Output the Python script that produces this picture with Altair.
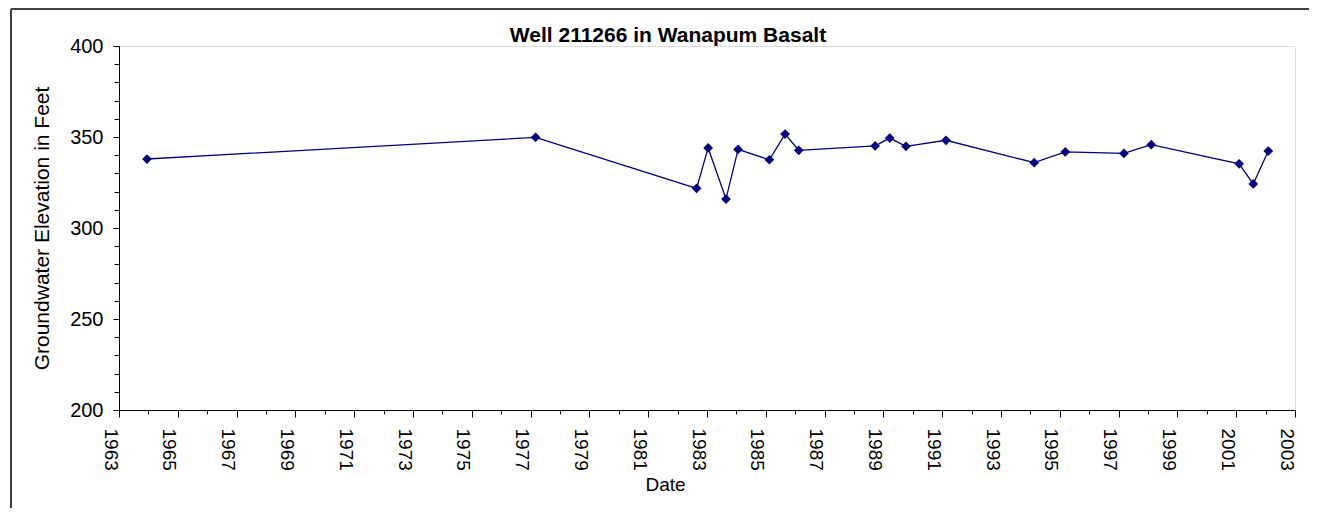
import altair as alt
import pandas as pd

# Data
dates = [
    "1963-12-15", "1977-03-03", "1982-08-25", "1983-01-15", "1983-08-25",
    "1984-01-22", "1985-02-14", "1985-08-28", "1986-02-14", "1988-09-20",
    "1989-03-20", "1989-10-08", "1991-02-17", "1994-02-17", "1995-03-10",
    "1997-03-07", "1998-02-10", "2001-02-06", "2001-07-31", "2002-02-03",
]
elevations = [
    337.9, 349.8, 321.8, 344.0, 315.9,
    343.2, 337.5, 351.6, 342.7, 345.1,
    349.4, 344.9, 348.2, 335.9, 341.8,
    341.0, 345.8, 335.3, 324.2, 342.3,
]
major_years = list(range(1963, 2004, 2))
minor_years = list(range(1963, 2004, 1))
y_major = [200, 250, 300, 350, 400]
y_minor = list(range(200, 401, 10))
title_text = "Well 211266 in Wanapum Basalt"

df = pd.DataFrame({"date": dates, "elev": elevations})

FONT = "Liberation Sans"
NAVY = "#000080"

x_scale = alt.Scale(
    type="utc",
    domain=[alt.DateTime(year=1963, month=1, date=1, utc=True),
            alt.DateTime(year=2003, month=1, date=1, utc=True)],
    nice=False,
)
y_scale = alt.Scale(domain=[200, 400], nice=False, zero=False)

x_major_axis = alt.Axis(
    orient="bottom",
    values=[alt.DateTime(year=y, month=1, date=1, utc=True) for y in major_years],
    format="%Y", formatType="utc",
    labelAngle=90, labelAlign="left", labelBaseline="top",
    labelFont=FONT, labelFontSize=19, labelColor="black", labelPadding=11,
    tickSize=7, tickColor="black", domainColor="black", grid=False,
    labelOverlap=False, labelFlush=False,
    title="Date", titleFont=FONT, titleFontSize=19, titleFontWeight="normal",
    titleColor="black", titleX=546, titleY=80, titleAlign="center",
    titleBaseline="alphabetic",
)
y_major_axis = alt.Axis(
    orient="left",
    values=y_major,
    labelFont=FONT, labelFontSize=20, labelColor="black", labelPadding=10,
    tickSize=6, tickColor="black", domainColor="black", grid=False,
    title="Groundwater Elevation in Feet", titleFont=FONT, titleFontSize=21,
    titleFontWeight="normal", titleColor="black", titleAngle=-90,
    titleX=-71, titleY=182, titleAlign="center", titleBaseline="alphabetic",
)
x_minor_axis = alt.Axis(
    orient="bottom",
    values=[alt.DateTime(year=y, month=1, date=1, utc=True) for y in minor_years],
    labels=False, tickSize=4, tickColor="black", domain=False, grid=False, title=None,
)
y_minor_axis = alt.Axis(
    orient="left", values=y_minor, labels=False, tickSize=5,
    tickColor="black", domain=False, grid=False, title=None,
)

base = alt.Chart(df)

minor = base.mark_point(opacity=0).encode(
    x=alt.X("date:T", scale=x_scale, axis=x_minor_axis),
    y=alt.Y("elev:Q", scale=y_scale, axis=y_minor_axis),
)
line = base.mark_line(color=NAVY, strokeWidth=1.3).encode(
    x=alt.X("date:T", scale=x_scale, axis=x_major_axis),
    y=alt.Y("elev:Q", scale=y_scale, axis=y_major_axis),
)
points = base.mark_point(shape="diamond", filled=True, color=NAVY, size=95, opacity=1).encode(
    x=alt.X("date:T", scale=x_scale, axis=None),
    y=alt.Y("elev:Q", scale=y_scale, axis=None),
)

deco = alt.Data(values=[{"t": title_text}])
title_mark = alt.Chart(deco).mark_text(
    font=FONT, fontSize=21, fontWeight="bold", color="black",
    align="center", baseline="alphabetic",
).encode(x=alt.value(549), y=alt.value(-4), text="t:N")
frame_left = alt.Chart(deco).mark_rule(color="#404040", strokeWidth=2).encode(
    x=alt.value(-108), y=alt.value(-37), y2=alt.value(470)
)
frame_top = alt.Chart(deco).mark_rule(color="#404040", strokeWidth=2).encode(
    x=alt.value(-108), x2=alt.value(1190), y=alt.value(-37)
)

chart = (
    alt.layer(minor, line, points, title_mark, frame_left, frame_top)
    .resolve_axis(x="independent", y="independent")
    .properties(
        width=1176,
        height=364,
        autosize=alt.AutoSizeParams(type="none"),
        padding={"left": 111, "top": 38, "right": 15, "bottom": 98},
    )
    .configure_view(stroke="#808080", strokeWidth=1)
    .configure(background="white")
)

chart.save("out.html", embed_options={"renderer": "svg", "actions": False})
